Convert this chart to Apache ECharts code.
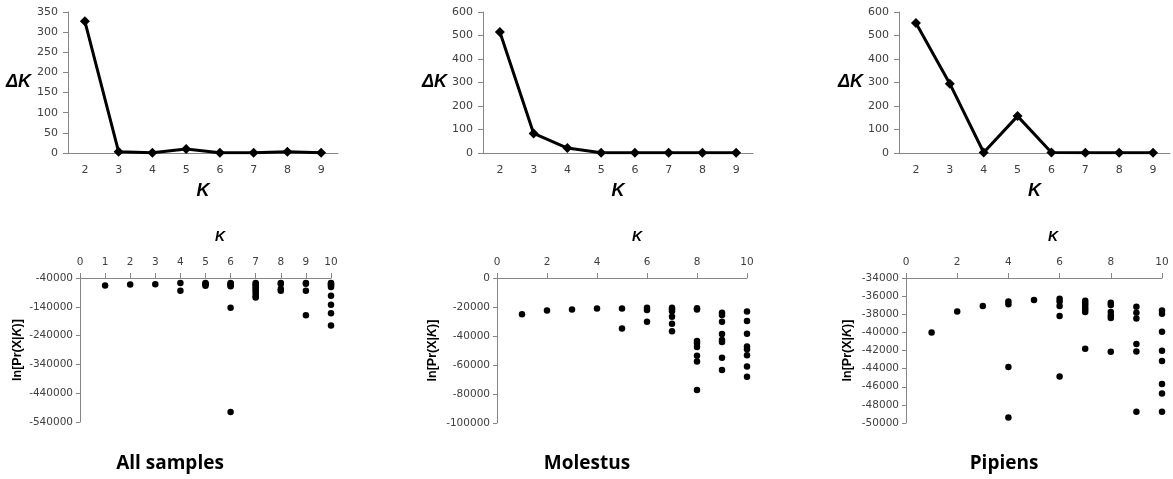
<!DOCTYPE html>
<html>
<head>
<meta charset="utf-8">
<script src="https://cdn.jsdelivr.net/npm/echarts@6/dist/echarts.min.js"></script>
<style>
html,body{margin:0;padding:0;background:#fff;}
#chart{width:1173px;height:479px;}
</style>
</head>
<body>
<div id="chart"></div>
<script>
// ---- data ----
var kCategories = ['2','3','4','5','6','7','8','9'];
var deltaKAll = [327, 3, 0.5, 10, 0.5, 0.5, 3, 0.5];
var deltaKMolestus = [515, 83, 21, 1, 1, 1, 1, 1];
var deltaKPipiens = [553, 295, 2, 157, 2, 1, 1, 1];

var lnPAll = [
  [1,-66000],[2,-63000],[3,-62000],
  [4,-57000],[4,-84000],
  [5,-57000],[5,-60000],[5,-63000],[5,-67000],
  [6,-57000],[6,-60000],[6,-65000],[6,-69000],[6,-143000],[6,-505000],
  [7,-57000],[7,-62000],[7,-68000],[7,-74000],[7,-80000],[7,-87000],[7,-95000],[7,-103000],[7,-108000],
  [8,-57000],[8,-61000],[8,-78000],[8,-84000],
  [9,-57000],[9,-60000],[9,-84000],[9,-169000],
  [10,-57000],[10,-60000],[10,-63000],[10,-67000],[10,-71000],[10,-102000],[10,-133000],[10,-162000],[10,-205000]
];
var lnPMolestus = [
  [1,-25000],[2,-22400],[3,-21700],[4,-21000],
  [5,-21000],[5,-34900],
  [6,-20500],[6,-22000],[6,-30100],
  [7,-20500],[7,-21500],[7,-23000],[7,-26700],[7,-31500],[7,-36800],
  [8,-20800],[8,-21800],[8,-43400],[8,-45200],[8,-47500],[8,-53700],[8,-57500],[8,-77200],
  [9,-24000],[9,-25600],[9,-30200],[9,-38600],[9,-42700],[9,-44100],[9,-55000],[9,-63500],
  [10,-23100],[10,-29700],[10,-38400],[10,-47300],[10,-49100],[10,-53200],[10,-61000],[10,-68100]
];
var lnPPipiens = [
  [1,-40000],[2,-37700],[3,-37100],
  [4,-36600],[4,-36900],[4,-43830],[4,-49400],
  [5,-36430],
  [6,-36300],[6,-36600],[6,-37100],[6,-38200],[6,-44870],
  [7,-36500],[7,-36760],[7,-36980],[7,-37250],[7,-37500],[7,-37760],[7,-41810],
  [8,-36730],[8,-36980],[8,-37760],[8,-38130],[8,-38420],[8,-42140],
  [9,-37170],[9,-37830],[9,-38460],[9,-41290],[9,-42110],[9,-48770],
  [10,-37580],[10,-37950],[10,-39930],[10,-42030],[10,-43170],[10,-45710],[10,-46750],[10,-48770]
];
var ticksAll = [-540000,-440000,-340000,-240000,-140000,-40000];
var panelTitles = ['All samples','Molestus','Pipiens'];

// ---- styles ----
var axisColor = '#868686';
var labelColor = '#404040';
var labelFont = 'DejaVu Sans';
function plain(v){ return String(v); }

var chart = echarts.init(document.getElementById('chart'));

var topGrids = [
  {left:68, top:12, width:270, height:141},
  {left:483, top:12, width:270, height:141},
  {left:899, top:12, width:271, height:141}
];
var botGrids = [
  {left:80, top:278, width:251, height:144},
  {left:497, top:278, width:250, height:145},
  {left:906, top:278, width:256, height:145}
];
var topMax = [350, 600, 600];
var topInterval = [50, 100, 100];
var dkGap = [37, 35, 35];
var topData = [deltaKAll, deltaKMolestus, deltaKPipiens];
var botData = [lnPAll, lnPMolestus, lnPPipiens];
var botY = [
  {min:-540000, max:-40000},
  {min:-100000, max:0, interval:20000},
  {min:-50000, max:-34000, interval:2000}
];
var botXInt = [1, 2, 2];
var botNameGap = [56, 58, 52];

var grid = [], xAxis = [], yAxis = [], series = [], graphic = [];

for (var i = 0; i < 3; i++) {
  grid.push(topGrids[i]);
  xAxis.push({
    type:'category', gridIndex:i, data:kCategories, boundaryGap:true,
    axisLine:{lineStyle:{color:axisColor}},
    axisTick:{lineStyle:{color:axisColor}, length:5},
    axisLabel:{color:labelColor, fontFamily:labelFont, fontSize:11, margin:12},
    name:'K', nameLocation:'middle', nameGap:29,
    nameTextStyle:{fontFamily:'Liberation Sans', fontWeight:'bold', fontStyle:'italic', fontSize:18, color:'#000'}
  });
  yAxis.push({
    type:'value', gridIndex:i, min:0, max:topMax[i], interval:topInterval[i],
    splitLine:{show:false},
    axisLine:{show:true, lineStyle:{color:axisColor}},
    axisTick:{show:true, lineStyle:{color:axisColor}, length:5},
    axisLabel:{color:labelColor, fontFamily:labelFont, fontSize:11, margin:10, formatter:plain},
    name:'ΔK', nameLocation:'middle', nameRotate:0, nameGap:dkGap[i],
    nameTextStyle:{fontFamily:'Liberation Sans', fontWeight:'bold', fontStyle:'italic', fontSize:18, color:'#000', align:'right', verticalAlign:'middle'}
  });
  series.push({
    type:'line', xAxisIndex:i, yAxisIndex:i, data:topData[i],
    symbol:'diamond', symbolSize:10, showSymbol:true,
    lineStyle:{color:'#000', width:3},
    itemStyle:{color:'#000'},
    animation:false
  });
}

for (var j = 0; j < 3; j++) {
  var gi = j + 3;
  grid.push(botGrids[j]);
  xAxis.push({
    type:'value', gridIndex:gi, position:'top', min:0, max:10, interval:botXInt[j],
    splitLine:{show:false},
    axisLine:{lineStyle:{color:axisColor}},
    axisTick:{lineStyle:{color:axisColor}, length:5},
    axisLabel:{color:labelColor, fontFamily:labelFont, fontSize:10.5, margin:10, formatter:plain}
  });
  var ya = {
    type:'value', gridIndex:gi, min:botY[j].min, max:botY[j].max,
    splitLine:{show:false},
    axisLine:{show:true, lineStyle:{color:axisColor}},
    axisTick:{show:true, lineStyle:{color:axisColor}, length:4},
    axisLabel:{color:labelColor, fontFamily:labelFont, fontSize:10.5, margin:7, formatter:plain},
    name:'{b|ln[Pr(X|}{i|K}{b|)]}', nameLocation:'middle', nameRotate:90, nameGap:botNameGap[j],
    nameTextStyle:{
      rich:{
        b:{fontFamily:'Liberation Sans', fontWeight:'bold', fontSize:12.5, color:'#000'},
        i:{fontFamily:'Liberation Sans', fontWeight:'bold', fontStyle:'italic', fontSize:12.5, color:'#000'}
      }
    }
  };
  if (botY[j].interval) {
    ya.interval = botY[j].interval;
  } else {
    ya.axisTick.customValues = ticksAll;
    ya.axisLabel.customValues = ticksAll;
  }
  yAxis.push(ya);
  series.push({
    type:'scatter', xAxisIndex:gi, yAxisIndex:gi, data:botData[j],
    symbol:'circle', symbolSize:6.5, itemStyle:{color:'#000', opacity:1}, animation:false
  });
}

// bottom "K" names above axes and panel titles
var kPos = [220, 637, 1053];
var titlePos = [170, 587, 1004];
for (var m = 0; m < 3; m++) {
  graphic.push({
    type:'text', x:kPos[m], y:237,
    style:{text:'K', font:'italic bold 14px "Liberation Sans"', fill:'#000', align:'center', verticalAlign:'middle'}
  });
  graphic.push({
    type:'text', x:titlePos[m], y:464,
    style:{text:panelTitles[m], font:'bold 19px "Open Sans"', fill:'#000', align:'center', verticalAlign:'middle'}
  });
}

chart.setOption({
  animation:false,
  backgroundColor:'#fff',
  grid:grid, xAxis:xAxis, yAxis:yAxis, series:series, graphic:graphic
});
</script>
</body>
</html>
